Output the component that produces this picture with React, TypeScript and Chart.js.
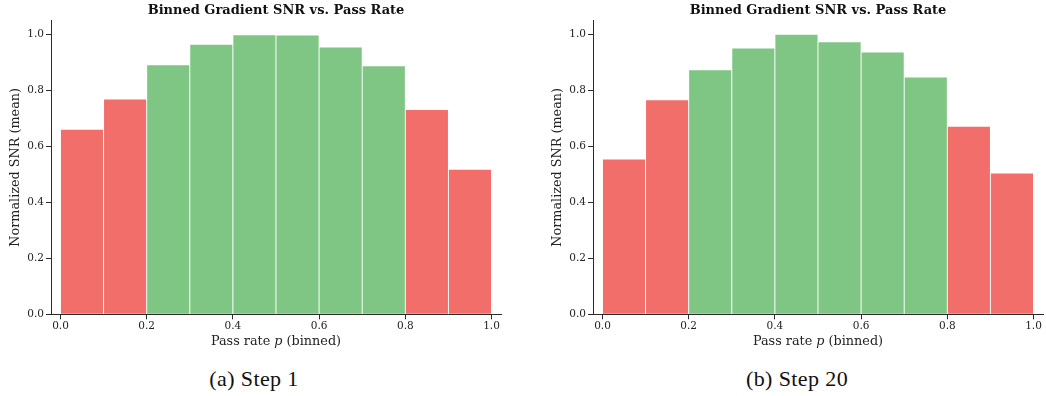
import React, { useEffect, useRef } from "react";
import { Chart, registerables } from "chart.js";

Chart.register(...registerables);

const binCenters = [0.05, 0.15, 0.25, 0.35, 0.45, 0.55, 0.65, 0.75, 0.85, 0.95];
const step1Values = [0.661, 0.769, 0.891, 0.965, 0.999, 0.998, 0.955, 0.888, 0.732, 0.518];
const step20Values = [0.555, 0.766, 0.874, 0.951, 1.0, 0.974, 0.937, 0.848, 0.672, 0.505];
const binInZone = [false, false, true, true, true, true, true, true, false, false];
const xTickValues = [0, 0.2, 0.4, 0.6, 0.8, 1.0];
const yTickValues = [0, 0.2, 0.4, 0.6, 0.8, 1.0];

const chartTitle = "Binned Gradient SNR vs. Pass Rate";
const yTitle = "Normalized SNR (mean)";
const xTitleParts = ["Pass rate ", "p", " (binned)"];

const RED = "#F16E6B";
const GREEN = "#7FC583";
const AXIS = "#2b2b2b";
const SERIF = "'DejaVu Serif', serif";

const xLabelPlugin = {
  id: "xLabelPlugin",
  afterDraw(chart: any) {
    const ctx = chart.ctx;
    const area = chart.chartArea;
    const cx = (area.left + area.right) / 2;
    const y = area.bottom + 27;
    const fonts = [
      `12.8px ${SERIF}`,
      `italic 12.8px ${SERIF}`,
      `12.8px ${SERIF}`,
    ];
    ctx.save();
    ctx.fillStyle = "#222";
    ctx.textBaseline = "middle";
    ctx.textAlign = "left";
    let total = 0;
    const widths = xTitleParts.map((t, i) => {
      ctx.font = fonts[i];
      const w = ctx.measureText(t).width;
      total += w;
      return w;
    });
    let x = cx - total / 2;
    xTitleParts.forEach((t, i) => {
      ctx.font = fonts[i];
      ctx.fillText(t, x, y);
      x += widths[i];
    });
    ctx.restore();
  },
};

function Panel({ values, left, width }: { values: number[]; left: number; width: number }) {
  const ref = useRef<HTMLCanvasElement>(null);
  useEffect(() => {
    if (!ref.current) return;
    const chart = new Chart(ref.current, {
      type: "bar",
      data: {
        datasets: [
          {
            data: binCenters.map((c, i) => ({ x: c, y: values[i] })),
            backgroundColor: binInZone.map((g) => (g ? GREEN : RED)),
            borderColor: "rgba(255,255,255,0.9)",
            borderWidth: 0.8,
            barPercentage: 1,
            categoryPercentage: 1,
          } as any,
        ],
      },
      options: {
        animation: false,
        responsive: false,
        maintainAspectRatio: false,
        layout: { padding: { left: 0, right: width - 501, top: 0, bottom: 0 } },
        plugins: {
          legend: { display: false },
          tooltip: { enabled: false },
          title: {
            display: true,
            fullSize: false,
            text: chartTitle,
            color: "#111",
            font: { family: SERIF, size: 13, weight: "bold" },
            padding: { top: 2.5, bottom: 2.3 },
          },
        },
        scales: {
          x: {
            type: "linear",
            min: -0.022,
            max: 1.022,
            offset: false,
            afterBuildTicks: (s: any) => {
              s.ticks = xTickValues.map((v) => ({ value: v }));
            },
            afterFit: (s: any) => {
              s.height = 40.7;
            },
            ticks: {
              color: "#222",
              font: { family: SERIF, size: 10.5 },
              padding: 1,
              maxRotation: 0,
              callback: (v: any) => Number(v).toFixed(1),
            },
            grid: {
              display: true,
              drawOnChartArea: false,
              drawTicks: true,
              tickLength: 5,
              offset: false,
              color: AXIS,
            },
            border: { display: true, color: AXIS, width: 1 },
          },
          y: {
            type: "linear",
            min: 0,
            max: 1.05,
            afterBuildTicks: (s: any) => {
              s.ticks = yTickValues.map((v) => ({ value: v }));
            },
            afterFit: (s: any) => {
              s.width = 51;
            },
            ticks: {
              color: "#222",
              font: { family: SERIF, size: 10.5 },
              padding: 2,
              callback: (v: any) => Number(v).toFixed(1),
            },
            grid: {
              display: true,
              drawOnChartArea: false,
              drawTicks: true,
              tickLength: 5,
              color: AXIS,
            },
            border: { display: true, color: AXIS, width: 1 },
            title: {
              display: true,
              text: yTitle,
              color: "#222",
              font: { family: SERIF, size: 12.8 },
              padding: { top: 8, bottom: 0 },
            },
          },
        },
      },
      plugins: [xLabelPlugin],
    } as any);
    return () => chart.destroy();
  }, [values, width]);
  return (
    <div style={{ position: "absolute", left, top: 0, width, height: 355 }}>
      <canvas ref={ref} width={width} height={355} style={{ width, height: 355, display: "block" }} />
    </div>
  );
}

const captionStyle: React.CSSProperties = {
  position: "absolute",
  top: 365,
  fontFamily: "'Liberation Serif', 'Times New Roman', serif",
  fontSize: 22,
  letterSpacing: "0.4px",
  color: "#111",
  textAlign: "center",
  lineHeight: "28px",
  whiteSpace: "nowrap",
};

export default function App() {
  return (
    <div
      style={{
        position: "absolute",
        left: 0,
        top: 0,
        width: 1046,
        height: 396,
        overflow: "hidden",
        background: "#fff",
      }}
    >
      <Panel values={step1Values} left={0} width={515} />
      <Panel values={step20Values} left={542} width={504} />
      <div style={{ ...captionStyle, left: 154, width: 200 }}>(a) Step 1</div>
      <div style={{ ...captionStyle, left: 697, width: 200 }}>(b) Step 20</div>
    </div>
  );
}
